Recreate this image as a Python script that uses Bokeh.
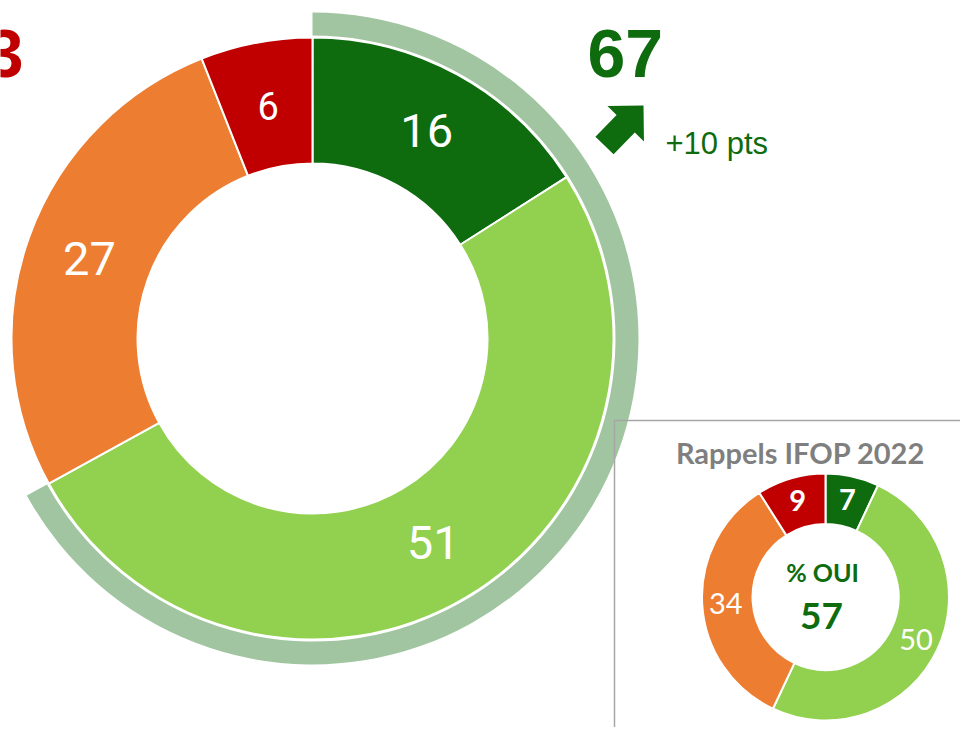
import numpy as np
from bokeh.plotting import figure
from bokeh.models import Range1d, ColumnDataSource
from bokeh.core.properties import value
from bokeh.embed import file_html
from bokeh.resources import INLINE

# ---------------- data ----------------
categories = ["Oui, tout à fait", "Oui, plutôt", "Non, plutôt pas", "Non, pas du tout"]
values_now = [16, 51, 27, 6]
values_2022 = [7, 50, 34, 9]
is_yes = [True, True, False, False]
colors = ["#0E6B0E", "#92D050", "#ED7D31", "#C00000"]
inset_title = "Rappels IFOP 2022"
inset_center_label = "% OUI"

GREEN_TXT = "#0E6B0E"
RED_TXT = "#C00000"
ARC_COLOR = "#A0C5A0"

yes_now = sum(v for v, y in zip(values_now, is_yes) if y)
no_now = sum(v for v, y in zip(values_now, is_yes) if not y)
yes_2022 = sum(v for v, y in zip(values_2022, is_yes) if y)
delta = yes_now - yes_2022

# ---------------- figure (data units == pixels, y up) ----------------
W, H = 960, 727
p = figure(width=W, height=H, x_range=Range1d(0, W), y_range=Range1d(-H, 0),
           output_backend="svg", toolbar_location=None, min_border=0)
p.axis.visible = False
p.grid.visible = False
p.outline_line_color = None
p.background_fill_color = "white"
p.border_fill_color = "white"


def wedges(vals):
    total = float(sum(vals))
    cum = np.concatenate([[0], np.cumsum(vals)]) / total
    start = np.pi / 2 - 2 * np.pi * cum[:-1]
    end = np.pi / 2 - 2 * np.pi * cum[1:]
    mid = (start + end) / 2
    return start, end, mid


BIG_FONT = value("Liberation Sans Narrow, Roboto")

# ---- big donut ----
BX, BY = 312, -338
B_IN, B_OUT = 175, 301

# outer pale arc for the "yes" share
p.annular_wedge(x=BX, y=BY, inner_radius=303, outer_radius=326,
                start_angle=np.pi / 2, end_angle=np.pi / 2 - 2 * np.pi * yes_now / sum(values_now),
                direction="clock", fill_color=ARC_COLOR, line_color=None)

s, e, m = wedges(values_now)
src_big = ColumnDataSource(dict(start=s, end=e, color=colors, cat=categories))
p.annular_wedge(x=BX, y=BY, inner_radius=B_IN, outer_radius=B_OUT,
                start_angle="start", end_angle="end", direction="clock",
                fill_color="color", line_color="white", line_width=2, source=src_big)

r_lab = 237
lab_big = ColumnDataSource(dict(
    x=BX + r_lab * np.cos(m), y=BY + r_lab * np.sin(m),
    t=[str(v) for v in values_now],
    fs=["38px" if v < 10 else "47px" for v in values_now]))
p.text(x="x", y="y", text="t", source=lab_big, text_font=BIG_FONT,
       text_font_size="fs", text_color="white", text_align="center", text_baseline="middle")

# ---- small donut (inset) ----
SX, SY = 825, -596.5
S_IN, S_OUT = 73, 123.5
s2, e2, m2 = wedges(values_2022)
src_small = ColumnDataSource(dict(start=s2, end=e2, color=colors, cat=categories))
p.annular_wedge(x=SX, y=SY, inner_radius=S_IN, outer_radius=S_OUT,
                start_angle="start", end_angle="end", direction="clock",
                fill_color="color", line_color="white", line_width=2, source=src_small)
r_lab2 = 100
lab_small = ColumnDataSource(dict(
    x=SX + r_lab2 * np.cos(m2), y=SY + r_lab2 * np.sin(m2),
    t=[str(v) for v in values_2022],
    st=["bold" if v < 10 else "normal" for v in values_2022]))
p.text(x="x", y="y", text="t", source=lab_small, text_font=value("Lato"),
       text_font_size="29px", text_font_style="st", text_color="white",
       text_align="center", text_baseline="middle")

p.text(x=[822], y=[-571], text=[inset_center_label], text_font=value("Lato"),
       text_font_size="25px", text_font_style="bold", text_color=GREEN_TXT,
       text_align="center", text_baseline="middle")
p.text(x=[821], y=[-615], text=[str(yes_2022)], text_font=value("Lato"),
       text_font_size="37px", text_font_style="bold", text_color=GREEN_TXT,
       text_align="center", text_baseline="middle")

# inset frame
p.quad(left=[614], right=[1100], top=[-420], bottom=[-900], fill_color=None,
       line_color="#A6A6A6", line_width=1.5)
p.text(x=[800], y=[-452], text=[inset_title], text_font=value("Lato"),
       text_font_size="29px", text_font_style="bold", text_color="#7F7F7F",
       text_align="center", text_baseline="middle")

# ---- headline numbers ----
p.text(x=[587], y=[-53], text=[str(yes_now)], text_font=value("Liberation Sans"),
       text_font_size="68px", text_font_style="bold", text_color=GREEN_TXT,
       text_align="left", text_baseline="middle")
p.text(x=[23], y=[-53], text=[str(no_now)], text_font=value("Liberation Sans"),
       text_font_size="68px", text_font_style="bold", text_color=RED_TXT,
       text_align="right", text_baseline="middle")
p.text(x=[665], y=[-143], text=[f"+{delta} pts"], text_font=value("Liberation Sans"),
       text_font_size="31px", text_color=GREEN_TXT,
       text_align="left", text_baseline="middle")

# ---- arrow (up-right) ----
tail = np.array([604.0, -145.0])
tip = np.array([643.0, -105.0])
d = (tip - tail) / np.linalg.norm(tip - tail)
n = np.array([-d[1], d[0]])
L = np.linalg.norm(tip - tail)
head_half, shaft_half = 25.5, 12.7
base = tail + (L - head_half) * d
pts = [tail - shaft_half * n, base - shaft_half * n, base - head_half * n, tip,
       base + head_half * n, base + shaft_half * n, tail + shaft_half * n]
p.patch(x=[q[0] for q in pts], y=[q[1] for q in pts], fill_color=GREEN_TXT, line_color=None)

open("out.html", "w").write(file_html(p, INLINE))
